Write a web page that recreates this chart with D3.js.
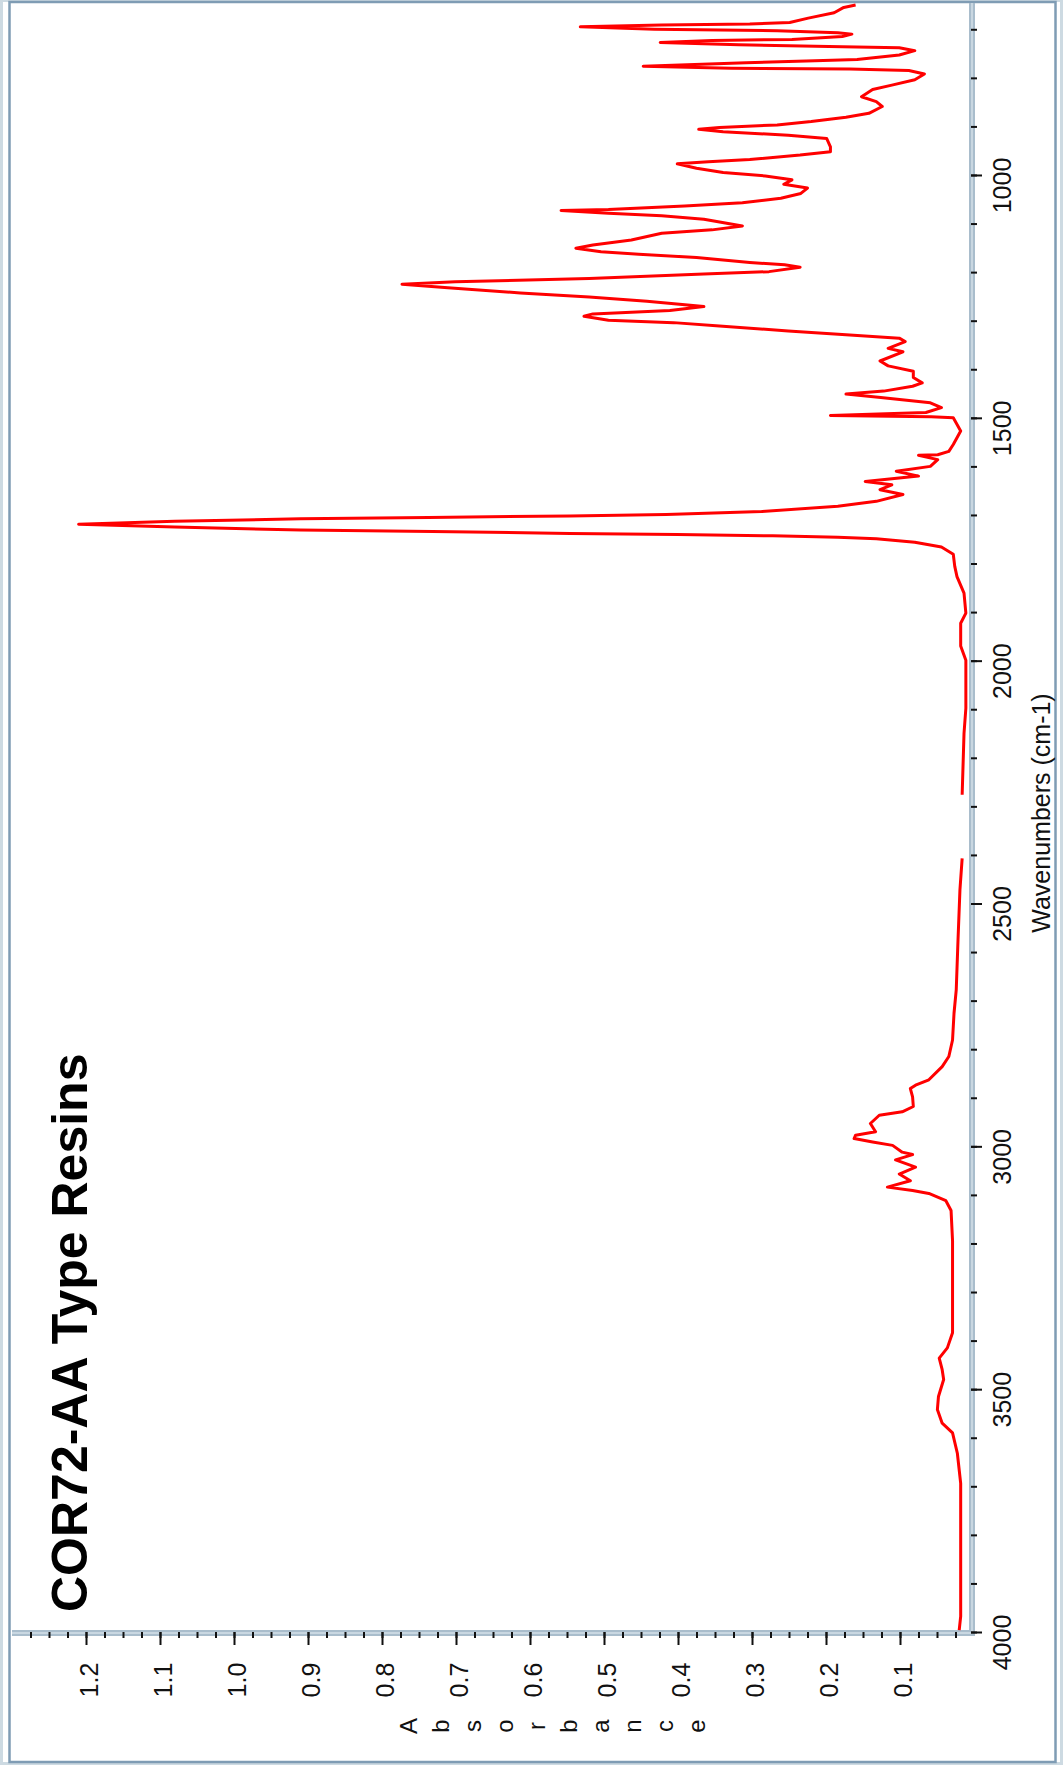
<!DOCTYPE html>
<html lang="en">
<head>
<meta charset="UTF-8">
<title>COR72-AA Type Resins</title>
<script src="https://d3js.org/d3.v7.min.js"></script>
<style>
  body { margin: 0; background: #fff; }
  svg { display: block; font-family: "Liberation Sans", Arial, Helvetica, sans-serif; }
</style>
</head>
<body>
<svg id="plot" width="1063" height="1765"></svg>
<script>
    // spectrum, null marks the blanked CO2 region
    const wavenumbers = [650, 655, 666, 677, 686, 689, 691, 695, 700, 703, 707, 710, 715, 721, 723, 727, 732, 736, 738, 744,
        753, 762, 765, 769, 776, 780, 782, 785, 792, 804, 815, 824, 839, 849, 859, 873, 881, 890, 897, 902,
        906, 911, 918, 925, 942, 952, 959, 968, 973, 977, 986, 995, 1002, 1010, 1019, 1027, 1038, 1048, 1057, 1064,
        1071, 1073, 1079, 1084, 1091, 1105, 1113, 1120, 1134, 1144, 1151, 1158, 1163, 1170, 1180, 1185, 1190, 1199, 1204, 1213,
        1220, 1225, 1232, 1243, 1251, 1260, 1271, 1279, 1286, 1291, 1299, 1304, 1311, 1321, 1329, 1336, 1343, 1357, 1364, 1383,
        1393, 1404, 1417, 1428, 1435, 1445, 1451, 1458, 1469, 1479, 1489, 1495, 1498, 1500, 1527, 1555, 1569, 1576, 1577, 1586,
        1600, 1610, 1620, 1631, 1638, 1648, 1658, 1672, 1682, 1693, 1699, 1702, 1705, 1708, 1713, 1719, 1725, 1731, 1734, 1738,
        1740, 1743, 1746, 1749, 1756, 1766, 1781, 1806, 1827, 1861, 1902, 1923, 1970, 1999, 2098, 2150, 2276, 2340,
        2407, 2472, 2575, 2678, 2726, 2781, 2815, 2836, 2863, 2874, 2881, 2898, 2918, 2929, 2936, 2953, 2970, 2977, 2984, 2991,
        2998, 3012, 3017, 3028, 3043, 3057, 3071, 3084, 3091, 3097, 3112, 3132, 3194, 3281, 3384, 3415, 3436, 3460, 3480, 3515,
        3542, 3570, 3590, 3632, 3694, 3797, 3900, 3968, 3996];
    const absorbance = [0.160, 0.176, 0.189, 0.224, 0.249, 0.303, 0.422, 0.532, 0.432, 0.266, 0.184, 0.165, 0.178, 0.246, 0.354, 0.424, 0.318, 0.178, 0.101, 0.080,
        0.101, 0.158, 0.215, 0.308, 0.447, 0.328, 0.168, 0.088, 0.067, 0.080, 0.111, 0.137, 0.152, 0.132, 0.124, 0.142, 0.173, 0.220, 0.266, 0.344,
        0.372, 0.339, 0.251, 0.199, 0.194, 0.194, 0.235, 0.303, 0.359, 0.401, 0.375, 0.339, 0.282, 0.246, 0.257, 0.225, 0.234, 0.261, 0.313, 0.391,
        0.494, 0.558, 0.494, 0.422, 0.365, 0.313, 0.354, 0.422, 0.463, 0.515, 0.538, 0.504, 0.453, 0.375, 0.303, 0.256, 0.235, 0.277, 0.365, 0.520,
        0.701, 0.773, 0.711, 0.613, 0.520, 0.442, 0.365, 0.411, 0.515, 0.527, 0.494, 0.406, 0.344, 0.251, 0.173, 0.101, 0.093, 0.116, 0.096, 0.127,
        0.116, 0.082, 0.082, 0.070, 0.083, 0.122, 0.173, 0.126, 0.059, 0.044, 0.065, 0.194, 0.058, 0.028, 0.018, 0.028, 0.034, 0.049, 0.075, 0.049,
        0.059, 0.105, 0.075, 0.147, 0.111, 0.127, 0.096, 0.132, 0.184, 0.287, 0.416, 0.546, 0.737, 0.910, 1.080, 1.210, 1.080, 0.910, 0.732, 0.546,
        0.401, 0.272, 0.184, 0.132, 0.080, 0.044, 0.028, 0.026, 0.023, 0.0135, 0.011, 0.018, 0.018, 0.011, 0.011, 0.0135, 0.016, null,
        0.016, 0.019, 0.0216, 0.024, 0.027, 0.029, 0.034, 0.043, 0.061, 0.079, 0.086, 0.083, 0.082, 0.097, 0.128, 0.140, 0.133, 0.160, 0.162, 0.137,
        0.110, 0.097, 0.083, 0.106, 0.079, 0.101, 0.086, 0.117, 0.083, 0.061, 0.038, 0.031, 0.029, 0.029, 0.029, 0.036, 0.047, 0.043, 0.041, 0.048,
        0.0495, 0.043, 0.029, 0.0225, 0.018, 0.018, 0.018, 0.018, 0.020];

    const wnMajor = [1000, 1500, 2000, 2500, 3000, 3500, 4000];
    const wnMinor = d3.range(700, 4001, 100);
    const absMajor = [0.1, 0.2, 0.3, 0.4, 0.5, 0.6, 0.7, 0.8, 0.9, 1.0, 1.1, 1.2];
    const absMinor = d3.range(1, 52).map(i => i * 0.025);
    const title = "COR72-AA Type Resins";
    const xTitle = "Wavenumbers (cm-1)";
    const yTitle = "Absorbance";

    const svg = d3.select("#plot");

    // the page is printed on its side: wavenumber runs down the right edge,
    // absorbance grows towards the left
    const y = d3.scaleLinear().domain([650, 4000]).range([5, 1632]);
    const x = d3.scaleLinear().domain([0, 1.3]).range([974, 12]);

    // frame
    svg.append("rect")
        .attr("x", 1.5).attr("y", 0.5).attr("width", 1060).attr("height", 1763)
        .attr("fill", "none").attr("stroke", "#cddae2").attr("stroke-width", 3);
    svg.append("rect")
        .attr("x", 9.5).attr("y", 2).attr("width", 1046).attr("height", 1760)
        .attr("fill", "none").attr("stroke", "#7f9cb4").attr("stroke-width", 2.5);

    // axis bands
    svg.append("line")
        .attr("x1", 972).attr("x2", 972).attr("y1", 3).attr("y2", 1636)
        .attr("stroke", "#a9bdcc").attr("stroke-width", 6);
    svg.append("line")
        .attr("x1", 12).attr("x2", 975).attr("y1", 1633).attr("y2", 1633)
        .attr("stroke", "#a9bdcc").attr("stroke-width", 6);
    svg.append("line")
        .attr("x1", 972).attr("x2", 972).attr("y1", 3).attr("y2", 1634)
        .attr("stroke", "#c9d7e1").attr("stroke-width", 2);
    svg.append("line")
        .attr("x1", 12).attr("x2", 973).attr("y1", 1633).attr("y2", 1633)
        .attr("stroke", "#c9d7e1").attr("stroke-width", 2);

    var styleAxis = function (g) {
        g.attr("color", "#111").attr("font-family", null).attr("font-size", null);
        g.select(".domain").remove();
        g.selectAll("line").attr("stroke-width", 2);
    }

    // wavenumber axis
    svg.append("g").attr("transform", "translate(971,0)")
        .call(d3.axisRight(y).tickValues(wnMinor).tickSize(6).tickFormat(""))
        .call(styleAxis);
    svg.append("g").attr("transform", "translate(971,0)")
        .call(d3.axisRight(y).tickValues(wnMajor).tickSize(11).tickFormat(d3.format("d")))
        .call(styleAxis)
        .selectAll("text")
        .attr("x", 0).attr("dy", null)
        .attr("text-anchor", "middle").attr("dominant-baseline", "central")
        .attr("transform", "translate(31,10) rotate(-90)")
        .style("font-size", "25px");

    // absorbance axis
    svg.append("g").attr("transform", "translate(0,1632)")
        .call(d3.axisBottom(x).tickValues(absMinor).tickSize(6).tickFormat(""))
        .call(styleAxis);
    svg.append("g").attr("transform", "translate(0,1632)")
        .call(d3.axisBottom(x).tickValues(absMajor).tickSize(13).tickFormat(d3.format(".1f")))
        .call(styleAxis)
        .selectAll("text")
        .attr("y", 0).attr("dy", null)
        .attr("text-anchor", "middle").attr("dominant-baseline", "central")
        .attr("transform", "translate(2,48) rotate(-90)")
        .style("font-size", "25px");

    // titles
    svg.append("text")
        .attr("transform", "translate(1041,813) rotate(-90)")
        .attr("text-anchor", "middle").attr("dominant-baseline", "central")
        .style("font-size", "25px").attr("fill", "#111")
        .text(xTitle);

    svg.append("g").selectAll("text")
        .data(yTitle.split(""))
        .join("text")
        .attr("transform", (d, i) => "translate(" + (408 + i * 32) + ",1726) rotate(-90)")
        .attr("text-anchor", "middle").attr("dominant-baseline", "central")
        .style("font-size", "24px").attr("fill", "#111")
        .text(d => d);

    svg.append("text")
        .attr("transform", "translate(87,1612) rotate(-90)")
        .style("font-size", "50px").style("font-weight", "bold").attr("fill", "#000")
        .text(title);

    // spectrum
    const line = d3.line()
        .defined(d => d[1] != null)
        .x(d => x(d[1]))
        .y(d => y(d[0]));

    svg.append("path")
        .datum(d3.zip(wavenumbers, absorbance))
        .attr("d", line)
        .attr("fill", "none")
        .attr("stroke", "#ff0000")
        .attr("stroke-width", 3)
        .attr("stroke-linejoin", "round");
</script>
</body>
</html>
